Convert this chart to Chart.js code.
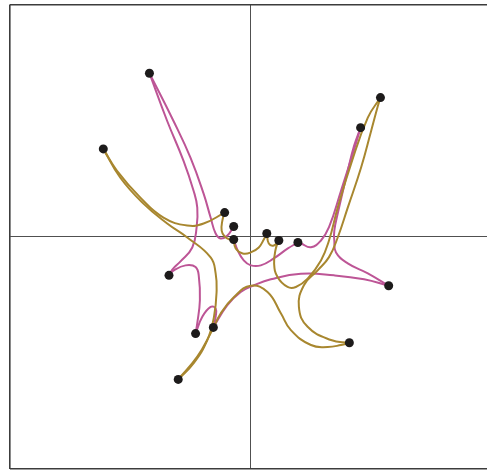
<!DOCTYPE html>
<html>
<head>
<meta charset="utf-8">
<script src="https://cdn.jsdelivr.net/npm/chart.js@4.4.1/dist/chart.umd.min.js"></script>
<style>
  html, body { margin: 0; padding: 0; background: #ffffff; overflow: hidden; }
  #wrap { width: 487px; height: 471px; overflow: hidden; }
  canvas { display: block; }
</style>
</head>
<body>
<div id="wrap"><canvas id="c" width="496" height="473"></canvas></div>
<script>
// ---- Data ----
// Nodes (black dots)
const nodeX = [-101, -147, -26, -17, -17, 16, 28, 47, -81.5, -55, -37.3, -72.3, 129.3, 109.5, 137.5, 98.3];
const nodeY = [164, 88, 24, 10, -3, 3, -4, -6, -39, -97.5, -91.3, -143.5, 139.5, 109.3, -49.5, -106.7];

// Pink curves (each a path of points from one node to another)
const pink1to9 = [[-101,164],[-83.3,116],[-67,76],[-57,46],[-53.3,29],[-54,9],[-58.3,-11],[-70,-25],[-78,-33],[-81.5,-39]];
const pink1to4 = [[-101,164],[-77,116],[-60,79],[-47,43],[-40,19],[-35,3],[-30,-2],[-23.3,1],[-17,10]];
const pink9to10 = [[-81.5,-39],[-76.7,-34],[-65,-29],[-55,-30.7],[-51.7,-40.7],[-50.7,-64],[-53.3,-87],[-55,-97.5]];
const pink10to11 = [[-55,-97.5],[-48.3,-80.7],[-40,-70.7],[-35,-72.3],[-35,-80.7],[-37.3,-91.3]];
const pink11to15 = [[-37.3,-91.3],[-23.3,-69],[-10,-55.7],[3.3,-49],[20,-43],[50,-37.5],[83,-39],[113,-43],[137.5,-49.5]];
const pink15to14 = [[137.5,-49.5],[116.7,-37],[96.7,-27],[85,-16],[83.3,-4],[83.3,6],[86.7,23],[96.7,66],[103,91],[109.5,109.3]];
const pink14to8 = [[109.5,109.3],[101.7,83],[90,46],[78,9.3],[70,-4],[60,-10.7],[50,-7],[47,-6]];
const pink8to5 = [[47,-6],[37,-12],[23,-22],[10,-29],[0,-29],[-7,-24],[-13,-14],[-17,-3]];

// Gold curves
const gold2to3 = [[-147,88],[-133.3,66],[-110,39],[-87,19],[-63.3,11],[-47,13],[-26,24]];
const gold2to12 = [[-147,88],[-130,59],[-107,33],[-83.3,13],[-63.3,-1],[-40,-21],[-35,-37],[-34,-54],[-36.7,-81],[-43.3,-104],[-56.7,-127],[-72.3,-143.5]];
const gold12to16 = [[-72.3,-143.5],[-53.3,-120.7],[-40,-97.3],[-30,-77.3],[-16.7,-60.7],[0,-49.5],[16.7,-55.7],[30,-77],[40,-94],[60,-109],[76.7,-111],[90,-109],[98.3,-106.7]];
const gold16to13 = [[98.3,-106.7],[80,-104],[56.7,-90.7],[48,-70.7],[53,-49],[66.7,-34],[78,-20.7],[86.7,-1],[96.7,29],[110,69.3],[120,106],[126.7,131],[129.3,139.5]];
const gold13to7 = [[129.3,139.5],[116.7,119.3],[100,73],[86.7,29],[78,-4],[70,-24],[56.7,-42.3],[45,-50.7],[36.7,-50.7],[26.7,-40.7],[23.3,-27.3],[25,-12],[28,-4]];
const gold3to5 = [[-26,24],[-28.3,16],[-29,6],[-26,0],[-20,-3.5],[-17,-3]];
const gold5to6 = [[-17,-3],[-15,-12],[-8,-17],[0,-16],[8,-11],[13,-3],[16,3]];
const gold6to7 = [[16,3],[18,-7],[23,-9],[28,-4]];

const pinkCurves = [pink1to9, pink1to4, pink9to10, pink10to11, pink11to15, pink15to14, pink14to8, pink8to5];
const goldCurves = [gold2to3, gold2to12, gold12to16, gold16to13, gold13to7, gold3to5, gold5to6, gold6to7];

// Axis extents
const xMin = -240, xMax = 240, yMin = -233, yMax = 233;

// ---- Styles ----
const PINK = '#bd5596';
const GOLD = '#a8872f';
const DOT = '#1d1b1b';

function curveDataset(path, color) {
  return {
    type: 'line',
    data: path.map(p => ({ x: p[0], y: p[1] })),
    borderColor: color,
    borderWidth: 2,
    tension: 0.45,
    pointRadius: 0,
    pointHoverRadius: 0,
    fill: false,
    order: 2
  };
}

const datasets = [{
  type: 'scatter',
  data: nodeX.map((x, i) => ({ x: x, y: nodeY[i] })),
  backgroundColor: DOT,
  borderColor: DOT,
  pointRadius: 4.5,
  pointBorderWidth: 0,
  order: 0
}];
goldCurves.forEach(p => datasets.push(curveDataset(p, GOLD)));
pinkCurves.forEach(p => datasets.push(curveDataset(p, PINK)));

function gridColor(ctx) { return ctx.tick && ctx.tick.value === 0 ? '#505050' : '#3c3c3c'; }
function gridWidth(ctx) { return ctx.tick && ctx.tick.value === 0 ? 1 : 1.6; }

new Chart(document.getElementById('c'), {
  type: 'scatter',
  data: { datasets: datasets },
  options: {
    responsive: false,
    animation: false,
    layout: { padding: { left: 10, top: 2, right: 2, bottom: 2 } },
    plugins: { legend: { display: false }, tooltip: { enabled: false } },
    scales: {
      x: {
        type: 'linear', min: xMin, max: xMax,
        ticks: { display: false, stepSize: 240 },
        grid: { drawTicks: false, color: gridColor, lineWidth: gridWidth },
        border: { display: false }
      },
      y: {
        type: 'linear', min: yMin, max: yMax,
        ticks: { display: false, stepSize: 233 },
        grid: { drawTicks: false, color: gridColor, lineWidth: gridWidth },
        border: { display: false }
      }
    }
  }
});
</script>
</body>
</html>
